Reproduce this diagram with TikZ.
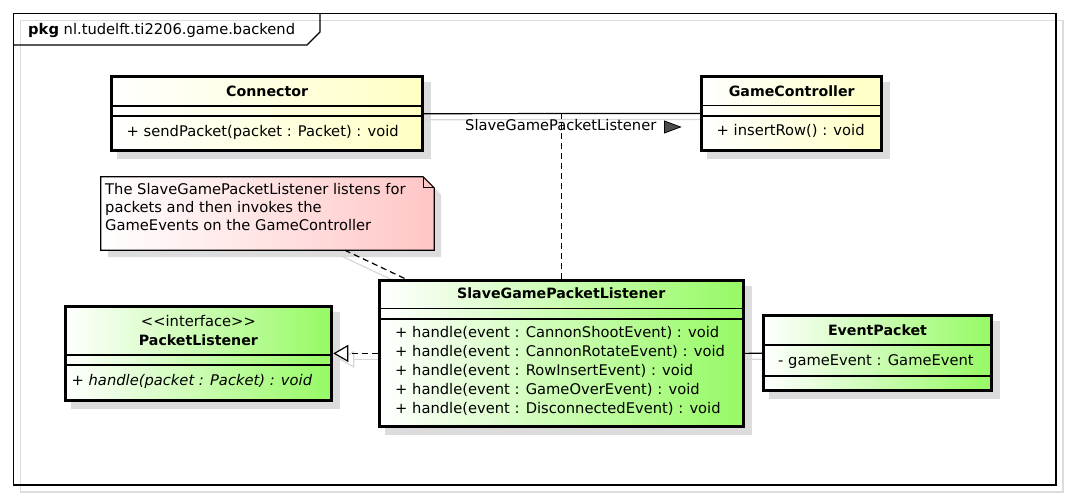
\documentclass[tikz,border=0pt]{standalone}
\usepackage{fontspec}
\setmainfont{DejaVu Sans}
\usetikzlibrary{arrows.meta}
\definecolor{ylw}{RGB}{255,255,196}
\definecolor{grn}{RGB}{150,250,100}
\definecolor{pnk}{RGB}{255,198,198}
\definecolor{shd}{RGB}{220,220,220}
\definecolor{cshd}{RGB}{215,215,215}
\pgfdeclarelayer{bg}
\pgfsetlayers{bg,main}
\tikzset{
  clsbox/.style={draw=black, line width=3pt, inner sep=0pt},
  yellowbox/.style={clsbox, left color=white, right color=ylw},
  greenbox/.style={clsbox, left color=white, right color=grn},
  sepline/.style={line width=1.1pt},
  txt/.style={inner sep=0pt, anchor=west, text height=11pt, text depth=3.5pt, font=\fontsize{14.7}{19}\selectfont},
  nametxt/.style={inner sep=0pt, text height=11pt, text depth=3.5pt, font=\fontsize{14.2}{19}\selectfont\bfseries},
  midtxt/.style={inner sep=0pt, text height=11pt, text depth=3.5pt, font=\fontsize{14.7}{19}\selectfont},
  conline/.style={line width=1.2pt},
  dline/.style={line width=1.2pt, dash pattern=on 6pt off 4pt},
  shline/.style={line width=1.2pt, draw=cshd},
}
\begin{document}
\begin{tikzpicture}[x=1pt,y=-1pt]
\useasboundingbox (0,0) rectangle (1069,498);
% package frame
\draw[draw=shd, line width=1.3pt] (20.5,20.5) rectangle (1063,492);
\draw[line width=1.3pt] (13.5,13.5) rectangle (1056,485);
\draw[line width=1.3pt] (13.5,45) -- (307,45) -- (320,32) -- (320,13.5);
\node[txt] (pkg) at (28,30.5) {\textbf{pkg} nl.tudelft.ti2206.game.backend};

% Connector
\node[yellowbox, minimum width=311pt, minimum height=74pt] (conn) at (267.2,113.7) {};
\draw[sepline] (conn.west |- 0,106) -- (conn.east |- 0,106);
\draw[sepline] (conn.west |- 0,116) -- (conn.east |- 0,116);
\node[nametxt] (connname) at (conn.center |- 0,92.3) {Connector};
\node[txt] (connm) at (126.5,132.7) {+ sendPacket(packet : Packet) : void};

% GameController
\node[yellowbox, minimum width=180pt, minimum height=74.7pt] (gc) at (791.7,113.4) {};
\draw[sepline] (gc.west |- 0,105.7) -- (gc.east |- 0,105.7);
\draw[sepline] (gc.west |- 0,116) -- (gc.east |- 0,116);
\node[nametxt] (gcname) at (gc.center |- 0,92.3) {GameController};
\node[txt] (gcm) at (716.5,131.7) {+ insertRow() : void};

% PacketListener
\node[greenbox, minimum width=266.7pt, minimum height=93.3pt] (pl) at (198.4,353.4) {};
\draw[sepline] (pl.west |- 0,355) -- (pl.east |- 0,355);
\draw[sepline] (pl.west |- 0,365) -- (pl.east |- 0,365);
\node[midtxt] (plst) at (pl.center |- 0,323) {\mbox{<}\mbox{<}interface\mbox{>}\mbox{>}};
\node[nametxt] (plname) at (pl.center |- 0,341.7) {PacketListener};
\node[txt] (plm) at (71.5,381.7) {\itshape + handle(packet : Packet) : void};

% SlaveGamePacketListener
\node[greenbox, minimum width=363.7pt, minimum height=146.7pt] (slave) at (561.2,353.4) {};
\draw[sepline] (slave.west |- 0,308.3) -- (slave.east |- 0,308.3);
\draw[sepline] (slave.west |- 0,319) -- (slave.east |- 0,319);
\node[nametxt] (slavename) at (slave.center |- 0,295) {SlaveGamePacketListener};
\foreach \t [count=\i] in {{+ handle(event : CannonShootEvent) : void},{+ handle(event : CannonRotateEvent) : void},{+ handle(event : RowInsertEvent) : void},{+ handle(event : GameOverEvent) : void},{+ handle(event : DisconnectedEvent) : void}}
  \node[txt] (sm\i) at (395,315+19*\i) {\t};

% EventPacket
\node[greenbox, minimum width=228.4pt, minimum height=75pt] (ep) at (877.5,353.2) {};
\draw[sepline] (ep.west |- 0,345) -- (ep.east |- 0,345);
\draw[sepline] (ep.west |- 0,376) -- (ep.east |- 0,376);
\node[nametxt] (epname) at (ep.center |- 0,332) {EventPacket};
\node[txt] (epa) at (778,361.7) {- gameEvent : GameEvent};

% Note
\node[minimum width=333pt, minimum height=73pt, inner sep=0pt] (note) at (267.5,213.5) {};
\shade[left color=white, right color=pnk, draw=black, line width=1.2pt]
  (note.north west) -- ([shift={(-11,0)}]note.north east) -- ([shift={(0,11)}]note.north east)
  -- (note.south east) -- (note.south west) -- cycle;
\draw[line width=1.2pt] ([shift={(-11,0)}]note.north east) -- ([shift={(-11,11)}]note.north east) -- ([shift={(0,11)}]note.north east);
\node[txt] (n1) at (105,190.7) {The SlaveGamePacketListener listens for};
\node[txt] (n2) at (105,208.6) {packets and then invokes the};
\node[txt] (n3) at (105,226.5) {GameEvents on the GameController};
\coordinate (nA) at ([shift={(244,0)}]note.south west);
\coordinate (nB) at ([shift={(27,0)}]slave.north west);

% shadows (background)
\begin{pgfonlayer}{bg}
  \foreach \n in {conn,gc,pl,slave,ep}
    \fill[shd] ([shift={(7,7)}]\n.north west) rectangle ([shift={(7,7)}]\n.south east);
  \fill[shd] ([shift={(7,7)}]note.north west) -- ([shift={(-4,7)}]note.north east) -- ([shift={(7,18)}]note.north east)
    -- ([shift={(7,7)}]note.south east) -- ([shift={(7,7)}]note.south west) -- cycle;
  \draw[shline] ([shift={(0,6)}]conn.east) -- ([shift={(8,6)}]gc.west);
  \draw[shline] ([shift={(-3,6)}]nA) -- ([shift={(-3,6)}]nB);
  \draw[shline, -{Triangle[length=15pt, width=17pt, fill=white]}] ([shift={(8,6)}]slave.west) -- ([shift={(6,6)}]pl.east);
  \draw[shline] ([shift={(0,6)}]slave.east) -- ([shift={(8,6)}]ep.west);
\end{pgfonlayer}

% connectors
\draw[conline] (conn.east) -- (gc.west);
\node[midtxt, anchor=west] (asslbl) at (465,127) {SlaveGamePacketListener};
\coordinate (tri) at (664.5,127);
\filldraw[fill=black!70, draw=black, line width=0.8pt] ([shift={(0,-6)}]tri) -- ([shift={(16,0)}]tri) -- ([shift={(0,6)}]tri) -- cycle;
\draw[dline] (slave.north) -- (slave.north |- conn.east);
\draw[dline] (nA) -- (nB);
\draw[dline, -{Triangle[length=15pt, width=17pt, fill=white, line width=1.2pt]}] (slave.west) -- (pl.east);
\draw[conline] (slave.east) -- (ep.west);
\end{tikzpicture}
\end{document}
